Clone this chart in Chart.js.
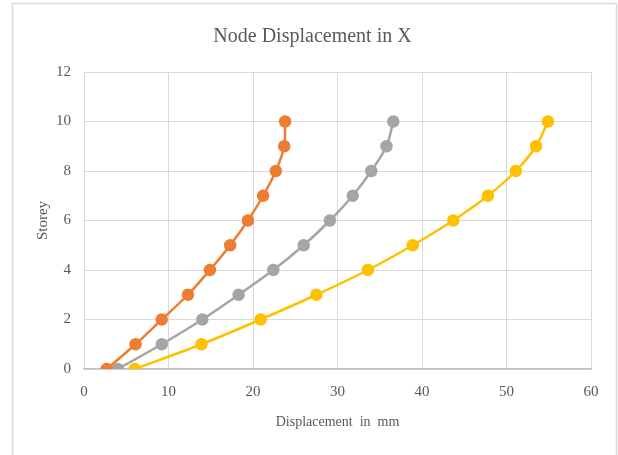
<!DOCTYPE html>
<html>
<head>
<meta charset="utf-8">
<script src="https://cdn.jsdelivr.net/npm/chart.js@4"></script>
<style>
html,body{margin:0;padding:0;background:#fff;}
#wrap{position:relative;width:618px;height:455px;}
</style>
</head>
<body>
<div id="wrap"><canvas id="c" width="618" height="455"></canvas></div>
<script>
const storeys = [0,1,2,3,4,5,6,7,8,9,10];
const series1 = [2.7,6.1,9.2,12.3,14.9,17.3,19.4,21.2,22.7,23.7,23.8];
const series2 = [4.0,9.2,14.0,18.3,22.4,26.0,29.1,31.8,34.0,35.8,36.6];
const series3 = [6.0,13.9,20.9,27.5,33.6,38.9,43.7,47.8,51.1,53.5,54.9];
const seriesNames = ['Series1','Series2','Series3'];
const colors = ['#ED7D31','#A5A5A5','#FFC000'];
const xTicks = [0,10,20,30,40,50,60];
const yTicks = [0,2,4,6,8,10,12];

function pts(xs){ return xs.map((x,i)=>({x:x,y:storeys[i]})); }

const borderPlugin = {
  id:'frame',
  beforeDraw(chart){
    const ctx=chart.ctx;
    ctx.save();
    ctx.fillStyle='#fff';
    ctx.fillRect(0,0,chart.width,chart.height);
    ctx.strokeStyle='#D9D9D9';
    ctx.lineWidth=1.5;
    ctx.strokeRect(12.5,3.5,604,460);
    ctx.restore();
  }
};

const font = "'Liberation Serif','Times New Roman',serif";
new Chart(document.getElementById('c'),{
  type:'scatter',
  data:{
    datasets:[series1,series2,series3].map((s,i)=>({
      label:seriesNames[i],
      data:pts(s),
      showLine:true,
      borderColor:colors[i],
      backgroundColor:colors[i],
      borderWidth:2.5,
      pointRadius:5,
      pointHoverRadius:5,
      tension:0.3
    }))
  },
  options:{
    responsive:false,
    animation:false,
    devicePixelRatio:1,
    layout:{padding:{left:34,right:27,top:12,bottom:20}},
    plugins:{
      legend:{display:false},
      tooltip:{enabled:false},
      title:{display:true,text:'Node Displacement in X',color:'#595959',
        font:{family:font,size:20,weight:'normal'},padding:{top:13,bottom:23},
        align:'center'}
    },
    scales:{
      x:{
        type:'linear',min:0,max:60,
        afterBuildTicks(a){a.ticks=xTicks.map(v=>({value:v}));},
        afterFit(a){a.height=66;},
        grid:{color:'#D9D9D9',lineWidth:1,drawTicks:false},
        border:{color:'#BFBFBF',width:1.5},
        ticks:{color:'#595959',font:{family:font,size:15},padding:14},
        title:{display:true,text:'Displacement  in  mm',color:'#595959',
          font:{family:font,size:14},padding:{top:6}}
      },
      y:{
        type:'linear',min:0,max:12,
        afterBuildTicks(a){a.ticks=yTicks.map(v=>({value:v}));},
        afterFit(a){a.width=50;},
        grid:{color:'#D9D9D9',lineWidth:1,drawTicks:false},
        border:{display:false},
        ticks:{color:'#595959',font:{family:font,size:15},padding:13},
        title:{display:true,text:'Storey',color:'#595959',
          font:{family:font,size:15},padding:{top:0,bottom:0}}
      }
    }
  },
  plugins:[borderPlugin]
});
</script>
</body>
</html>
